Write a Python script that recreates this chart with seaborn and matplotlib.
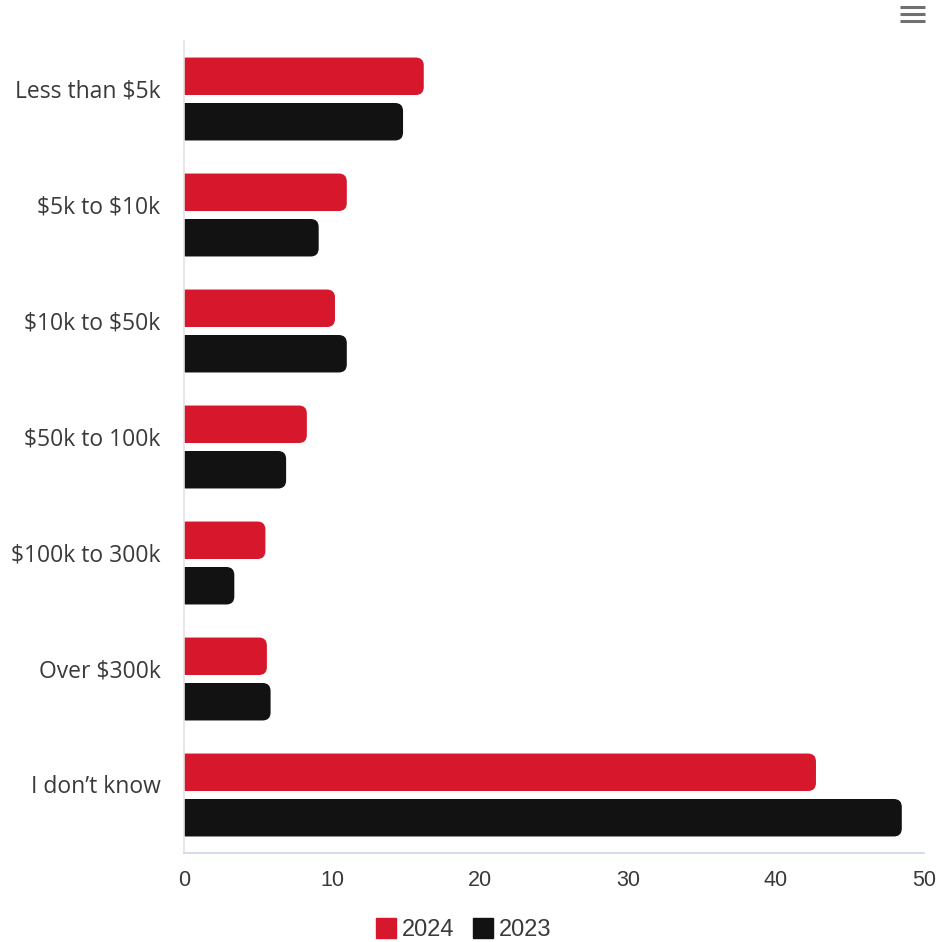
import matplotlib
matplotlib.use("Agg")
import matplotlib.pyplot as plt
from matplotlib.patches import FancyBboxPatch
from matplotlib.lines import Line2D
from matplotlib.transforms import ScaledTranslation
import seaborn as sns
import pandas as pd

categories = ["Less than $5k", "$5k to $10k", "$10k to $50k", "$50k to 100k",
              "$100k to 300k", "Over $300k", "I don\u2019t know"]
years = ["2024", "2023"]
values_2024 = [16.2, 11.0, 10.2, 8.3, 5.5, 5.6, 42.7]
values_2023 = [14.8, 9.1, 11.0, 6.9, 3.4, 5.85, 48.5]
x_ticks = [0, 10, 20, 30, 40, 50]

RED = "#d7172b"
BLACK = "#121212"
TEXT = "#3a3a3a"

df = pd.DataFrame({
    "category": categories * 2,
    "year": [years[0]] * len(categories) + [years[1]] * len(categories),
    "value": values_2024 + values_2023,
})

sns.set_theme(style="white")
plt.rcParams["font.family"] = ["Open Sans", "DejaVu Sans"]
plt.rcParams["text.parse_math"] = False

fig = plt.figure(figsize=(9.38, 9.42), dpi=100)
ax = fig.add_axes([184 / 938, (942 - 853) / 942, (924 - 184) / 938, (853 - 41) / 942])

sns.barplot(data=df, y="category", x="value", hue="year", order=categories,
            hue_order=years, palette=[RED, BLACK], saturation=1, orient="h",
            width=0.784, gap=0.176, legend=False, ax=ax)

ax.set_xlim(0, 50)
ax.set_ylim(len(categories) - 0.5, -0.5)

# Swap the plain rectangles for bars with rounded right ends
px_per_x = (924 - 184) / 50.0
px_per_y = (853 - 41) / len(categories)
radius_px = 8.0
r_x = radius_px / px_per_x
aspect = (radius_px / px_per_y) / r_x
bars = list(ax.patches)
for p in bars:
    x0, y0 = p.get_x(), p.get_y()
    w, h = p.get_width(), p.get_height()
    color = p.get_facecolor()
    p.remove()
    fb = FancyBboxPatch((x0 - 2 * r_x, y0), w + 2 * r_x, h,
                        boxstyle=f"round,pad=0,rounding_size={r_x}",
                        mutation_aspect=aspect, facecolor=color,
                        edgecolor="none", clip_on=True)
    ax.add_patch(fb)

sns.despine(ax=ax, top=True, right=True, left=False, bottom=False)
ax.spines["left"].set_color("#e3e3e3")
ax.spines["left"].set_linewidth(1.2)
ax.spines["bottom"].set_color("#ccd6eb")
ax.spines["bottom"].set_linewidth(1.2)

ax.set_xticks(x_ticks)
ax.set_xticklabels([str(t) for t in x_ticks], family=["Liberation Sans", "DejaVu Sans"])
ax.tick_params(axis="x", length=6, width=1, color="#ccd6eb",
               labelsize=15.5, pad=6, labelcolor=TEXT)
ax.tick_params(axis="y", length=0, labelsize=16.5, pad=17, labelcolor=TEXT)
for lbl in ax.get_yticklabels():
    lbl.set_transform(lbl.get_transform() + ScaledTranslation(0, 0.11, fig.dpi_scale_trans))

ax.set_xlabel("")
ax.set_ylabel("")
ax.grid(False)

handles = [Line2D([0], [0], marker="s", linestyle="none", markersize=14,
                  markerfacecolor=c, markeredgecolor=c) for c in (RED, BLACK)]
fig.legend(handles, years, loc="center", bbox_to_anchor=(457 / 938, 1 - 930 / 942),
           ncol=2, frameon=False, handletextpad=-0.32, columnspacing=0.22,
           labelcolor=TEXT, prop={"family": ["Liberation Sans", "DejaVu Sans"], "size": 17})

# Menu icon in the top right corner
for yy in (7, 14, 21):
    fig.add_artist(Line2D([900 / 938, 925 / 938], [1 - yy / 942, 1 - yy / 942],
                          color="#707070", linewidth=2.2, solid_capstyle="butt"))

fig.savefig("out.png", dpi=100, facecolor="white")
